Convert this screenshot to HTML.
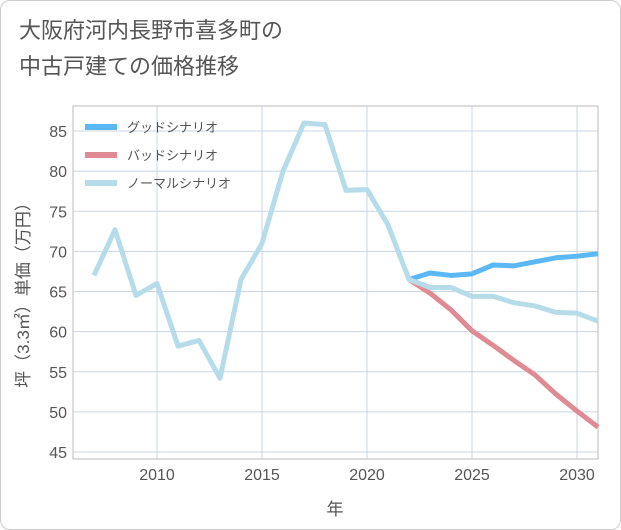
<!DOCTYPE html>
<html><head><meta charset="utf-8">
<style>
body{margin:0;background:#fff;font-family:"Liberation Sans","Noto Sans CJK JP",sans-serif;}
#wrap{position:relative;width:619px;height:528px;border:1px solid #ccc;border-radius:10px;overflow:hidden;background:#fff;}
#title{position:absolute;left:18px;top:12px;font-size:22px;line-height:36px;color:#555;font-family:"Liberation Sans","Noto Sans CJK JP",sans-serif;}
svg{position:absolute;left:0;top:0;}
</style></head><body>
<div id="wrap">
<div id="title">大阪府河内長野市喜多町の<br>中古戸建ての価格推移</div>
<svg id="chart" width="621" height="530"></svg>
</div>
<script>
const normalYears=[2007,2008,2009,2010,2011,2012,2013,2014,2015,2016,2017,2018,2019,2020,2021,2022,2023,2024,2025,2026,2027,2028,2029,2030,2031];
const normalValues=[67,72.7,64.5,66,58.2,58.9,54.2,66.5,71,80,86,85.8,77.6,77.7,73.3,66.5,65.5,65.5,64.4,64.4,63.6,63.2,62.4,62.3,61.3];
const forecastYears=[2022,2023,2024,2025,2026,2027,2028,2029,2030,2031];
const goodValues=[66.5,67.3,67.0,67.2,68.3,68.2,68.7,69.2,69.4,69.7];
const badValues=[66.5,64.8,62.7,60.1,58.3,56.4,54.6,52.2,50.1,48.1];
const xTicks=[2010,2015,2020,2025,2030];
const yTicks=[45,50,55,60,65,70,75,80,85];
const legendLabels=["グッドシナリオ","バッドシナリオ","ノーマルシナリオ"];
const colors=["#5cb8f5","#e08a93","#b6dcea"];

const svg=document.getElementById('chart');
const NS="http://www.w3.org/2000/svg";
const L=72,R=597,T=105,B=458;
const x=y=>156+(y-2010)*21;
const yv=v=>130+(85-v)*8.025;
function el(t,a){const e=document.createElementNS(NS,t);for(const k in a)e.setAttribute(k,a[k]);svg.appendChild(e);return e;}
const bg=el('rect',{x:L,y:T,width:R-L,height:B-T,fill:'#fff',stroke:'#bbb'});


yTicks.forEach(v=>{
 const g=el('line',{x1:L,x2:R,y1:yv(v),y2:yv(v),stroke:'#c9d5e2','stroke-width':1});
 
 
 const t=el('text',{x:L-6,y:yv(v)+6,'text-anchor':'end','font-size':16,fill:'#555'});
 t.textContent=v;
 
 
});
xTicks.forEach(v=>{
 const g=el('line',{x1:x(v),x2:x(v),y1:T,y2:B,stroke:'#c9d5e2','stroke-width':1});
 
 
 const t=el('text',{x:x(v),y:B+21,'text-anchor':'middle','font-size':16,fill:'#555'});
 t.textContent=v;
 
 
});
function line(xs,vs,c,name){
 const p=el('polyline',{points:xs.map((y,i)=>x(y)+','+yv(vs[i])).join(' '),fill:'none',stroke:c,'stroke-width':5,'stroke-linejoin':'round'});
 
 
}
line(forecastYears,badValues,colors[1],'bad-scenario-line');
line(forecastYears,goodValues,colors[0],'good-scenario-line');
line(normalYears,normalValues,colors[2],'normal-scenario-line');
legendLabels.forEach((s,i)=>{
 const yy=126+i*28;
 const l=el('line',{x1:84,x2:116,y1:yy,y2:yy,stroke:colors[i],'stroke-width':6});
 
 
 const t=el('text',{x:126,y:yy+5,'font-size':13,fill:'#555'});
 t.textContent=s;
 
 
});
const xt=el('text',{x:334,y:514,'text-anchor':'middle','font-size':17,fill:'#555'});
xt.textContent='年';


const yt=el('text',{x:0,y:0,'text-anchor':'middle','font-size':17,fill:'#555',transform:'translate(28,290) rotate(-90)'});
yt.textContent='坪（3.3㎡）単価（万円）';


</script>
</body></html>
